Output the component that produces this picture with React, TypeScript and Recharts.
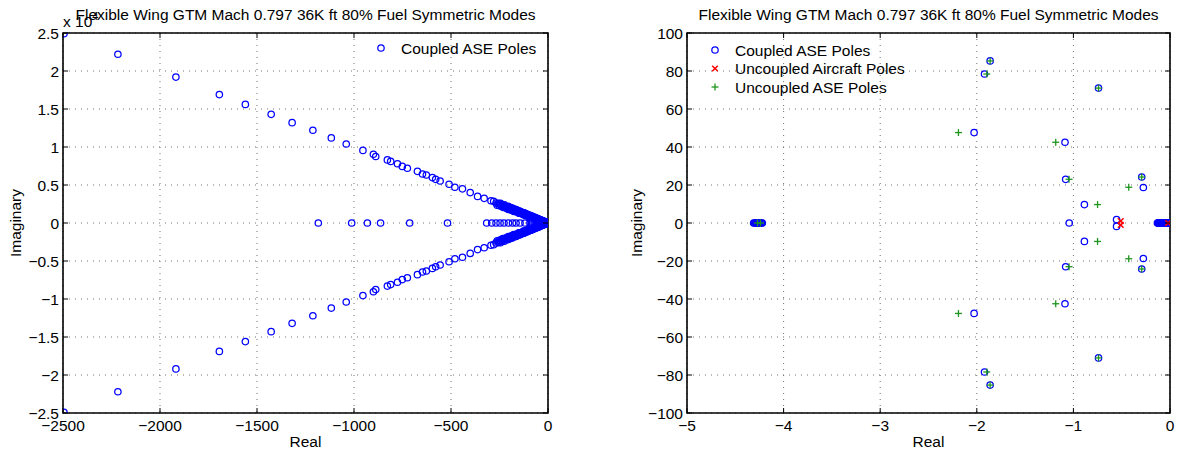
import React from 'react';
import { ScatterChart, Scatter, XAxis, YAxis, CartesianGrid, ReferenceArea, Legend, Customized } from 'recharts';

const FONT = '"Liberation Sans", Arial, Helvetica, sans-serif';
const FS = 15.5;
const TITLE = 'Flexible Wing GTM Mach 0.797 36K ft 80% Fuel Symmetric Modes';

// ---------- Left chart data (imaginary part in units of 10^4) ----------
const leftXTicks = [-2500, -2000, -1500, -1000, -500, 0];
const leftYTicks = [-2.5, -2, -1.5, -1, -0.5, 0, 0.5, 1, 1.5, 2, 2.5];

const leftBranchRe = [
  -2495, -2217, -1918, -1694, -1560, -1427, -1319, -1212, -1117, -1040, -954, -900, -888, -828, -811, -776,
  -751, -725, -673, -647, -627, -596, -579, -556, -510, -480, -441, -401, -363, -329, -294, -280, -268, -256,
  -245, -236, -226, -218, -210, -202, -195, -188, -180, -173, -166, -160, -153, -147, -140, -134, -128, -122,
  -116, -110, -104, -98, -92, -86, -80, -74, -68, -62, -56, -50, -44, -38, -32, -26, -20, -14, -8, -3,
  -262, -232, -204, -176, -150, -124, -100, -78, -58, -40, -22,
];
const leftBranchIm = [
  2.49, 2.22, 1.92, 1.69, 1.56, 1.43, 1.32, 1.22, 1.12, 1.04, 0.955, 0.905, 0.875, 0.83, 0.81, 0.78,
  0.745, 0.72, 0.68, 0.645, 0.632, 0.598, 0.575, 0.553, 0.51, 0.47, 0.45, 0.4, 0.35, 0.325, 0.293, 0.285, 0.262, 0.258,
  0.24, 0.238, 0.222, 0.22, 0.205, 0.2, 0.19, 0.188, 0.176, 0.172, 0.163, 0.158, 0.15, 0.146, 0.138, 0.132, 0.126, 0.12,
  0.115, 0.108, 0.103, 0.097, 0.09, 0.085, 0.079, 0.073, 0.067, 0.061, 0.055, 0.049, 0.043, 0.037, 0.031, 0.025, 0.019, 0.013, 0.008, 0.003,
  0.235, 0.206, 0.178, 0.152, 0.128, 0.104, 0.082, 0.063, 0.046, 0.03, 0.016,
];
// dense poles packed near the origin
const leftDenseLowRe = [
  -250, -240, -230, -220, -212, -204, -196, -188, -180, -172, -164, -156, -148, -140, -132, -125, -118, -111,
  -104, -97, -90, -84, -78, -72, -66, -60, -54, -48, -42, -36, -30, -25, -20, -15, -10, -6,
];
const leftDenseLowIm = [
  0.228, 0.219, 0.209, 0.2, 0.192, 0.185, 0.177, 0.17, 0.163, 0.155, 0.148, 0.141, 0.133, 0.126, 0.119, 0.112, 0.106, 0.099,
  0.093, 0.086, 0.08, 0.075, 0.069, 0.064, 0.058, 0.053, 0.047, 0.042, 0.037, 0.031, 0.026, 0.022, 0.017, 0.013, 0.009, 0.005,
];
const leftDenseMidRe = [
  -198, -190, -182, -174, -166, -158, -150, -142, -134, -126, -118, -110, -102, -94, -86, -78, -70, -62, -54, -46, -38, -30, -22, -14, -6,
];
const leftDenseMidIm = [
  0.206, 0.198, 0.19, 0.182, 0.174, 0.166, 0.158, 0.15, 0.142, 0.134, 0.126, 0.117, 0.109, 0.1, 0.092, 0.083, 0.075, 0.066, 0.058, 0.05, 0.041, 0.033, 0.024, 0.016, 0.007,
];
const leftDenseHighRe = [-245, -225, -205, -185, -165, -145, -125, -105, -85, -65, -45];
const leftDenseHighIm = [0.26, 0.24, 0.218, 0.197, 0.176, 0.155, 0.134, 0.112, 0.091, 0.07, 0.049];

const leftAxisRe = [
  -1184, -1012, -931, -863, -713, -518, -316, -290, -268, -247, -227, -204, -183, -165, -144, -119, -93, -85, -80,
  -72, -66, -60, -55, -48, -44, -38, -33, -28, -22, -17, -14, -10, -6, -3, 0,
];

// ---------- Right chart data ----------
const rightXTicks = [-5, -4, -3, -2, -1, 0];
const rightYTicks = [-100, -80, -60, -40, -20, 0, 20, 40, 60, 80, 100];

const coupledRe = [
  -4.31, -4.3, -4.29, -4.28, -4.27, -4.26, -4.25, -4.24, -4.23, -4.22,
  -1.862, -1.92, -2.028, -1.087, -1.08, -0.886, -1.043, -0.74, -0.293, -0.276, -0.553,
  -0.13, -0.125, -0.12, -0.115, -0.11, -0.105, -0.1, -0.095, -0.09, -0.085, -0.08, -0.075, -0.07, -0.065, -0.06,
  -0.055, -0.05, -0.045, -0.04, -0.035, -0.03, -0.025, -0.02, -0.015, -0.01, -0.005, 0,
];
const coupledIm = [
  0, 0, 0, 0, 0, 0, 0, 0, 0, 0,
  85.3, 78.4, 47.6, 42.5, 23, 9.7, 0, 71, 24.2, 18.7, 1.8,
  0, 0, 0, 0, 0, 0, 0, 0, 0, 0, 0, 0, 0, 0, 0,
  0, 0, 0, 0, 0, 0, 0, 0, 0, 0, 0, 0,
];

const aircraftRe = [-0.51, -0.02];
const aircraftIm = [1.0, 0];

const uncoupledRe = [-4.27, -4.24, -1.862, -1.897, -2.19, -1.183, -1.045, -0.75, -0.74, -0.293, -0.427];
const uncoupledIm = [0, 0, 85.3, 78.4, 47.6, 42.5, 23, 9.7, 71, 24.2, 18.8];

// poles come in conjugate pairs: add the mirrored member of each complex pole
function poles(re: number[], im: number[]) {
  const pts: { x: number; y: number }[] = [];
  re.forEach((r, i) => {
    pts.push({ x: r, y: im[i] });
    if (im[i] !== 0) pts.push({ x: r, y: -im[i] });
  });
  return pts;
}

const leftData = [
  ...poles(leftBranchRe, leftBranchIm),
  ...poles(leftDenseLowRe, leftDenseLowIm),
  ...poles(leftDenseMidRe, leftDenseMidIm),
  ...poles(leftDenseHighRe, leftDenseHighIm),
  ...poles(leftAxisRe, leftAxisRe.map(() => 0)),
];
const coupledData = poles(coupledRe, coupledIm);
const aircraftData = poles(aircraftRe, aircraftIm);
const uncoupledData = poles(uncoupledRe, uncoupledIm);

const BLUE = '#0000ff';
const RED = '#ff0000';
const GREEN = '#1e961e';

const fmt = (v: number) => String(v).replace('-', '\u2212');

const CircleShape = (p: any) => (
  <circle cx={p.cx} cy={p.cy} r={3.2} fill="none" stroke={BLUE} strokeWidth={1.25} />
);
const CrossShape = (p: any) => (
  <g stroke={RED} strokeWidth={1.5}>
    <line x1={p.cx - 2.8} y1={p.cy - 2.8} x2={p.cx + 2.8} y2={p.cy + 2.8} />
    <line x1={p.cx - 2.8} y1={p.cy + 2.8} x2={p.cx + 2.8} y2={p.cy - 2.8} />
  </g>
);
const PlusShape = (p: any) => (
  <g stroke={GREEN} strokeWidth={1.3}>
    <line x1={p.cx - 3.5} y1={p.cy} x2={p.cx + 3.5} y2={p.cy} />
    <line x1={p.cx} y1={p.cy - 3.5} x2={p.cx} y2={p.cy + 3.5} />
  </g>
);

function marker(kind: string, cx: number, cy: number) {
  if (kind === 'o') return <CircleShape cx={cx} cy={cy} />;
  if (kind === 'x') return <CrossShape cx={cx} cy={cy} />;
  return <PlusShape cx={cx} cy={cy} />;
}

const LegendBox = ({ items }: { items: { name: string; kind: string }[] }) => (
  <svg width={240} height={items.length * 18.5 + 4} style={{ display: 'block', overflow: 'visible' }}>
    {items.map((it, i) => {
      const cy = 10 + i * 18.5;
      return (
        <g key={i}>
          {marker(it.kind, 11, cy)}
          <text x={31} y={cy} dominantBaseline="central" fontFamily={FONT} fontSize={FS} fill="#000">
            {it.name}
          </text>
        </g>
      );
    })}
  </svg>
);

const makeXTick = (top: number, bottom: number) => (props: any) => {
  const { x, payload } = props;
  return (
    <g>
      <line x1={x} x2={x} y1={bottom} y2={bottom - 5} stroke="#000" strokeWidth={1} />
      <line x1={x} x2={x} y1={top} y2={top + 5} stroke="#000" strokeWidth={1} />
      <text x={x} y={431} textAnchor="middle" fontFamily={FONT} fontSize={FS} fill="#000">
        {fmt(payload.value)}
      </text>
    </g>
  );
};

const makeYTick = (left: number, right: number) => (props: any) => {
  const { y, payload } = props;
  return (
    <g>
      <line x1={left} x2={left + 5} y1={y} y2={y} stroke="#000" strokeWidth={1} />
      <line x1={right} x2={right - 5} y1={y} y2={y} stroke="#000" strokeWidth={1} />
      <text x={left - 4} y={y} textAnchor="end" dominantBaseline="central" fontFamily={FONT} fontSize={FS} fill="#000">
        {fmt(payload.value)}
      </text>
    </g>
  );
};

const PLOT_TOP = 33;
const PLOT_BOTTOM = 413;

const LeftTexts = () => (
  <g fontFamily={FONT} fontSize={FS} fill="#000">
    <text x={63} y={27}>
      x 10<tspan dy={-7} fontSize={11}>4</tspan>
    </text>
    <text x={305.5} y={20} textAnchor="middle">{TITLE}</text>
    <text x={305.5} y={447} textAnchor="middle">Real</text>
    <text transform="translate(15,223) rotate(-90)" textAnchor="middle" dominantBaseline="central">Imaginary</text>
  </g>
);

const RightTexts = () => (
  <g fontFamily={FONT} fontSize={FS} fill="#000">
    <text x={328.5} y={20} textAnchor="middle">{TITLE}</text>
    <text x={328.5} y={447} textAnchor="middle">Real</text>
    <text transform="translate(36,223) rotate(-90)" textAnchor="middle" dominantBaseline="central">Imaginary</text>
  </g>
);

export default function App() {
  return (
    <div style={{ position: 'absolute', left: 0, top: 0, width: 1177, height: 455, background: '#fff' }}>
      <div style={{ position: 'absolute', left: 0, top: 0 }}>
        <ScatterChart width={600} height={455} margin={{ top: PLOT_TOP, right: 52, bottom: 0, left: 0 }}>
          <CartesianGrid stroke="#707070" strokeDasharray="1 5" strokeWidth={1} />
          <XAxis
            type="number" dataKey="x" domain={[-2500, 0]} ticks={leftXTicks} interval={0}
            height={42} axisLine={false} tickLine={false} tickSize={0}
            tick={makeXTick(PLOT_TOP, PLOT_BOTTOM)} allowDataOverflow
          />
          <YAxis
            type="number" dataKey="y" domain={[-2.5, 2.5]} ticks={leftYTicks} interval={0}
            width={63} axisLine={false} tickLine={false} tickSize={0}
            tick={makeYTick(63, 548)} allowDataOverflow
          />
          <ReferenceArea x1={-2500} x2={0} y1={-2.5} y2={2.5} fill="none" stroke="#000" strokeWidth={1.6} fillOpacity={0} />
          <Scatter name="Coupled ASE Poles" data={leftData} shape={CircleShape} isAnimationActive={false} />
          <Legend
            layout="vertical" align="center" verticalAlign="middle"
            wrapperStyle={{ left: 370, top: 38, width: 200 }}
            content={() => <LegendBox items={[{ name: 'Coupled ASE Poles', kind: 'o' }]} />}
          />
          <Customized component={LeftTexts} />
        </ScatterChart>
      </div>
      <div style={{ position: 'absolute', left: 600, top: 0 }}>
        <ScatterChart width={577} height={455} margin={{ top: PLOT_TOP, right: 7, bottom: 0, left: 0 }}>
          <CartesianGrid stroke="#707070" strokeDasharray="1 5" strokeWidth={1} />
          <XAxis
            type="number" dataKey="x" domain={[-5, 0]} ticks={rightXTicks} interval={0}
            height={42} axisLine={false} tickLine={false} tickSize={0}
            tick={makeXTick(PLOT_TOP, PLOT_BOTTOM)} allowDataOverflow
          />
          <YAxis
            type="number" dataKey="y" domain={[-100, 100]} ticks={rightYTicks} interval={0}
            width={87} axisLine={false} tickLine={false} tickSize={0}
            tick={makeYTick(87, 570)} allowDataOverflow
          />
          <ReferenceArea x1={-5} x2={0} y1={-100} y2={100} fill="none" stroke="#000" strokeWidth={1.6} fillOpacity={0} />
          <Scatter name="Coupled ASE Poles" data={coupledData} shape={CircleShape} isAnimationActive={false} />
          <Scatter name="Uncoupled Aircraft Poles" data={aircraftData} shape={CrossShape} isAnimationActive={false} />
          <Scatter name="Uncoupled ASE Poles" data={uncoupledData} shape={PlusShape} isAnimationActive={false} />
          <Legend
            layout="vertical" align="center" verticalAlign="middle"
            wrapperStyle={{ left: 104, top: 40, width: 240 }}
            content={() => (
              <LegendBox
                items={[
                  { name: 'Coupled ASE Poles', kind: 'o' },
                  { name: 'Uncoupled Aircraft Poles', kind: 'x' },
                  { name: 'Uncoupled ASE Poles', kind: '+' },
                ]}
              />
            )}
          />
          <Customized component={RightTexts} />
        </ScatterChart>
      </div>
    </div>
  );
}
